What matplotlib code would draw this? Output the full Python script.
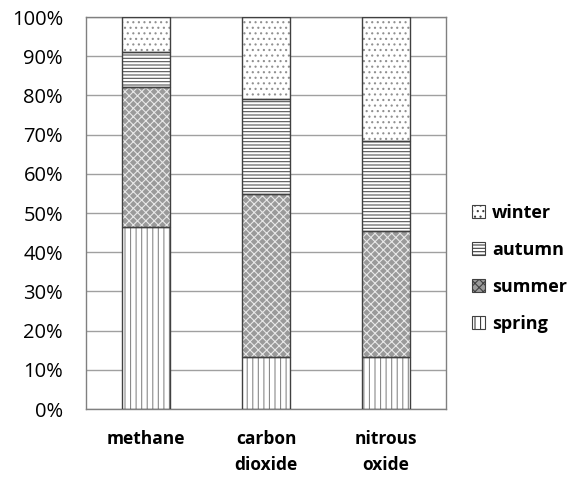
import numpy as np
import matplotlib.pyplot as plt
from matplotlib.patches import Patch

plt.rcParams['font.family'] = ['Open Sans', 'DejaVu Sans']
plt.rcParams['hatch.linewidth'] = 0.8

gases = ["methane", "carbon\ndioxide", "nitrous\noxide"]
seasons = ["spring", "summer", "autumn", "winter"]
spring = [46.4, 13.3, 13.2]
summer = [35.7, 41.5, 32.2]
autumn = [9.0, 24.3, 23.0]
winter = [8.9, 20.9, 31.6]
yticks = [0, 10, 20, 30, 40, 50, 60, 70, 80, 90, 100]

styles = {
    "spring": dict(face="white", hatch="|||", hc="#8a8a8a"),
    "summer": dict(face="#9a9a9a", hatch="xxxx", hc="#e8e8e8"),
    "autumn": dict(face="white", hatch="-----", hc="#555555"),
    "winter": dict(face="white", hatch="...", hc="#909090"),
}

fig = plt.figure(figsize=(5.75, 4.79), dpi=100)
ax = fig.add_axes([0.1496, 0.1461, 0.6261, 0.8184])

x = np.arange(len(gases))
bottom = np.zeros(len(gases))
handles = []
for name, vals in zip(seasons, [spring, summer, autumn, winter]):
    s = styles[name]
    ax.bar(x, vals, 0.4, bottom=bottom, color=s["face"], hatch=s["hatch"],
           edgecolor=s["hc"], linewidth=0, zorder=2)
    ax.bar(x, vals, 0.4, bottom=bottom, fill=False, edgecolor="#404040",
           linewidth=1.0, zorder=3)
    bottom += np.array(vals)
    handles.append(Patch(facecolor=s["face"], hatch=s["hatch"],
                         edgecolor="#404040", linewidth=0.8, label=name))

ax.set_xlim(-0.5, 2.5)
ax.set_ylim(0, 100)
ax.set_yticks(yticks)
ax.set_yticklabels([f"{v}%" for v in yticks], fontsize=14.5)
ax.set_xticks(x)
ax.set_xticklabels(gases, fontsize=12.5, fontweight="bold", linespacing=1.55)
ax.tick_params(axis="y", length=0, pad=16.5)
ax.tick_params(axis="x", length=0, pad=15)
ax.yaxis.grid(True, color="#a0a0a0", linewidth=1.0, zorder=0)
for sp in ax.spines.values():
    sp.set_color("#808080")
    sp.set_linewidth(1.0)

leg = fig.legend(handles[::-1], [h.get_label() for h in handles[::-1]],
                 loc="center left", bbox_to_anchor=(0.82, 0.44), frameon=False,
                 handlelength=0.75, handleheight=0.75, handletextpad=0.4,
                 labelspacing=1.05, borderpad=0, borderaxespad=0,
                 prop=dict(size=13, weight="bold"))

fig.savefig("out.png", dpi=100)
